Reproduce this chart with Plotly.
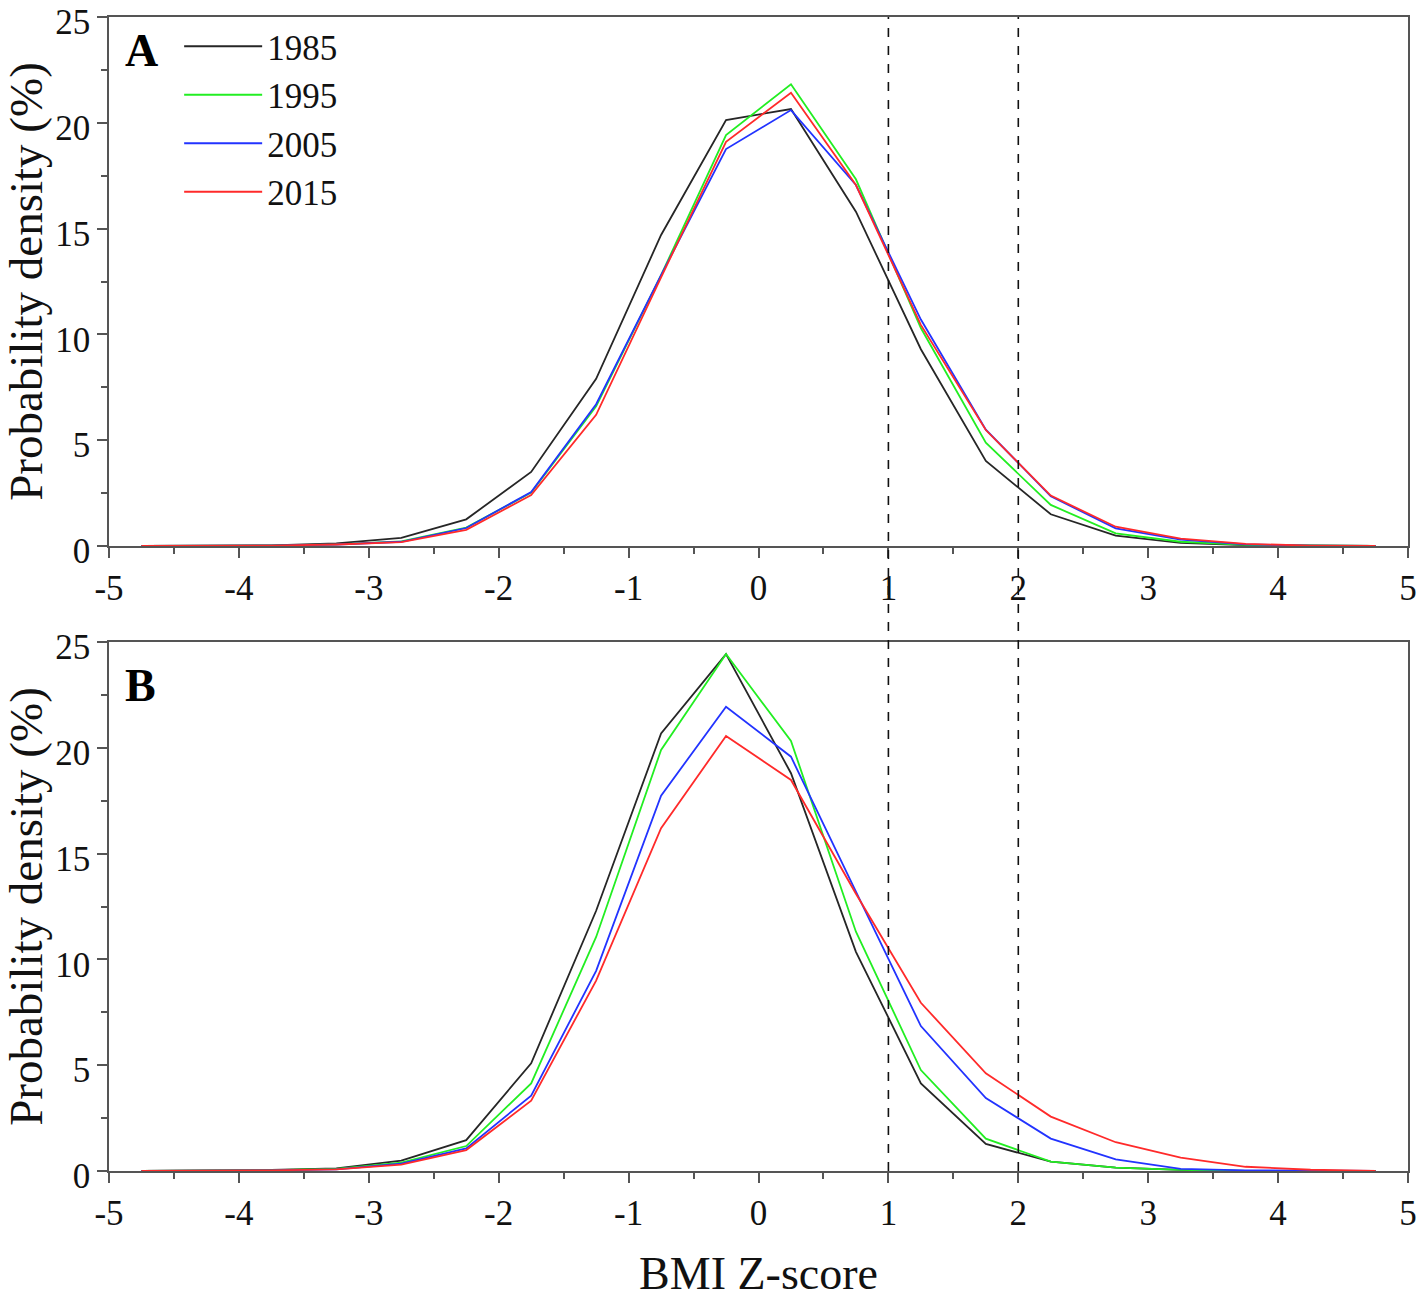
import plotly.graph_objects as go
from plotly.subplots import make_subplots

# Bin centres of BMI Z-score
z_bins = [-4.75, -4.25, -3.75, -3.25, -2.75, -2.25, -1.75, -1.25, -0.75, -0.25,
          0.25, 0.75, 1.25, 1.75, 2.25, 2.75, 3.25, 3.75, 4.25, 4.75]

years = ["1985", "1995", "2005", "2015"]
colors = {"1985": "#262626", "1995": "#22ee22", "2005": "#2233ff", "2015": "#ff2a2a"}

# Panel A probability density (%)
a_1985 = [0, 0.01, 0.03, 0.12, 0.38, 1.26, 3.5, 7.9, 14.7, 20.13, 20.65, 15.8, 9.3, 4.02, 1.5, 0.49, 0.15, 0.04, 0.01, 0]
a_1995 = [0, 0.01, 0.02, 0.08, 0.22, 0.87, 2.52, 6.6, 12.8, 19.42, 21.82, 17.33, 10.3, 4.88, 1.94, 0.6, 0.2, 0.05, 0.01, 0]
a_2005 = [0, 0.01, 0.02, 0.07, 0.2, 0.85, 2.55, 6.7, 12.8, 18.76, 20.6, 17.06, 10.7, 5.5, 2.35, 0.83, 0.3, 0.08, 0.02, 0]
a_2015 = [0, 0.01, 0.02, 0.07, 0.18, 0.76, 2.41, 6.2, 12.7, 19.1, 21.42, 17.06, 10.45, 5.48, 2.38, 0.91, 0.35, 0.1, 0.02, 0]

# Panel B probability density (%)
b_1985 = [0, 0.02, 0.05, 0.12, 0.49, 1.46, 5.09, 12.3, 20.68, 24.43, 18.8, 10.36, 4.14, 1.28, 0.44, 0.16, 0.05, 0.01, 0, 0]
b_1995 = [0, 0.02, 0.04, 0.1, 0.4, 1.18, 4.14, 11.06, 19.9, 24.43, 20.32, 11.31, 4.77, 1.53, 0.44, 0.16, 0.05, 0.01, 0, 0]
b_2005 = [0, 0.01, 0.03, 0.08, 0.35, 1.07, 3.56, 9.46, 17.74, 21.94, 19.58, 13.2, 6.85, 3.45, 1.53, 0.55, 0.1, 0.03, 0.01, 0]
b_2015 = [0, 0.01, 0.03, 0.08, 0.3, 0.99, 3.32, 9.0, 16.2, 20.56, 18.48, 13.1, 7.95, 4.62, 2.57, 1.36, 0.63, 0.2, 0.06, 0.01]

panel_a = {"1985": a_1985, "1995": a_1995, "2005": a_2005, "2015": a_2015}
panel_b = {"1985": b_1985, "1995": b_1995, "2005": b_2005, "2015": b_2015}

x_ticks = [-5, -4, -3, -2, -1, 0, 1, 2, 3, 4, 5]
x_ticktext = ["-5", "-4", "-3", "-2", "-1", "0", "1", "2", "3", "4", "5"]
y_ticks = [0, 5, 10, 15, 20, 25]
cutoffs = [1, 2]

FONT = "Liberation Serif, Times New Roman, serif"

fig = make_subplots(rows=2, cols=1, vertical_spacing=0.0832)

for yr in years:
    fig.add_trace(go.Scatter(x=z_bins, y=panel_a[yr], mode="lines", name=yr,
                             legendgroup=yr,
                             line=dict(color=colors[yr], width=1.8)), row=1, col=1)
for yr in years:
    fig.add_trace(go.Scatter(x=z_bins, y=panel_b[yr], mode="lines", name=yr,
                             legendgroup=yr, showlegend=False,
                             line=dict(color=colors[yr], width=1.8)), row=2, col=1)

axis_common = dict(showline=True, linecolor="#555555", linewidth=1.5, mirror=True,
                   ticks="outside", ticklen=10, tickwidth=1.5, tickcolor="#555555",
                   showgrid=False, zeroline=False, automargin=False,
                   ticklabeloverflow="allow",
                   tickfont=dict(family=FONT, size=35, color="#111111"))

for r in (1, 2):
    fig.update_xaxes(range=[-5, 5], tickvals=x_ticks, ticktext=x_ticktext,
                     minor=dict(dtick=0.5, ticks="outside", ticklen=6, tickwidth=1.5,
                                tickcolor="#555555"),
                     row=r, col=1, **axis_common)
    fig.update_yaxes(range=[0, 25], tickvals=y_ticks, ticklabelshift=5,
                     minor=dict(dtick=2.5, ticks="outside", ticklen=6, tickwidth=1.5,
                                tickcolor="#555555"),
                     title=dict(text="Probability density (%)",
                                font=dict(family=FONT, size=47, color="#111111"),
                                standoff=16),
                     row=r, col=1, **axis_common)

fig.update_xaxes(title=dict(text="BMI Z-score", font=dict(family=FONT, size=46, color="#111111"),
                            standoff=25), row=2, col=1)

for c in cutoffs:
    fig.add_shape(type="line", xref="x", yref="paper", x0=c, x1=c, y0=0, y1=1,
                  line=dict(color="#111111", width=1.6, dash="dash"))

fig.add_annotation(text="<b>A</b>", xref="x domain", yref="y domain", x=0.011, y=0.937,
                   xanchor="left", yanchor="middle", showarrow=False,
                   font=dict(family=FONT, size=46, color="#000000"))
fig.add_annotation(text="<b>B</b>", xref="x2 domain", yref="y2 domain", x=0.011, y=0.917,
                   xanchor="left", yanchor="middle", showarrow=False,
                   font=dict(family=FONT, size=46, color="#000000"))

fig.update_layout(
    width=1418, height=1301,
    margin=dict(l=109, r=10, t=17, b=130),
    plot_bgcolor="white", paper_bgcolor="white",
    font=dict(family=FONT, color="#111111"),
    legend=dict(x=0.054, y=1.0, xanchor="left", yanchor="top",
                bgcolor="rgba(0,0,0,0)", font=dict(family=FONT, size=35),
                tracegroupgap=0, itemwidth=78),
)

# remove the default 8px page margin so the figure fills the window exactly
fig.write_html("out.html", config={"displayModeBar": False},
               post_script="document.body.style.margin='0';document.body.style.overflow='hidden';")
